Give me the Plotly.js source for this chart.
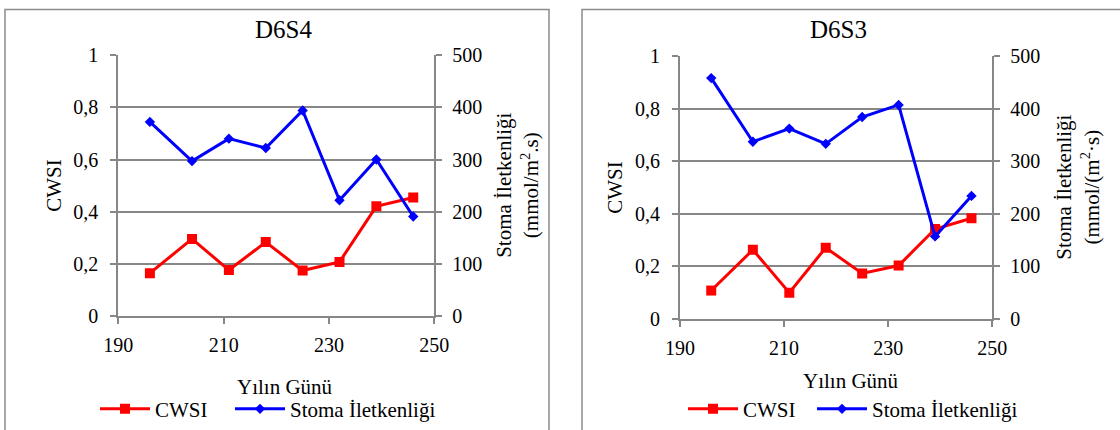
<!DOCTYPE html>
<html>
<head>
<meta charset="utf-8">
<script src="https://cdn.plot.ly/plotly-3.0.1.min.js"></script>
<style>html,body{margin:0;padding:0;background:#fff;}#chart{width:1120px;height:430px;}</style>
</head>
<body>
<div id="chart"></div>
<script>
// ---- data ----
const days = [196, 204, 211, 218, 225, 232, 239, 246];
const d6s4Cwsi = [0.165, 0.296, 0.177, 0.284, 0.175, 0.208, 0.421, 0.455];
const d6s4Stoma = [372, 297, 340, 322, 394, 222, 300, 191];
const d6s3Cwsi = [0.108, 0.263, 0.100, 0.271, 0.173, 0.203, 0.342, 0.383];
const d6s3Stoma = [458, 337, 362, 333, 384, 407, 157, 234];
const panelTitles = ['D6S4', 'D6S3'];
const seriesNames = ['CWSI', 'Stoma İletkenliği'];
const xTitle = 'Yılın Günü';
const yTitle = 'CWSI';
const y2Titles = ['Stoma İletkenliği<br>(mmol/m<sup>2</sup>.s)', 'Stoma İletkenliği<br>(mmol/(m<sup>2</sup>·s)'];

const W = 1120, H = 430;
const px = v => v / W;
const py = v => (H - v) / H;
const FONT = 'Liberation Serif';
const GRID = '#878787';
const RED = '#ff0000', BLUE = '#0000ff';

function cwsiTrace(y, xa, ya, lg) {
  return {x: days, y: y, xaxis: xa, yaxis: ya, name: seriesNames[0], legend: lg,
    type: 'scatter', mode: 'lines+markers',
    line: {color: RED, width: 3}, marker: {symbol: 'square', size: 10, color: RED}};
}
function stomaTrace(y, xa, ya, lg) {
  return {x: days, y: y, xaxis: xa, yaxis: ya, name: seriesNames[1], legend: lg,
    type: 'scatter', mode: 'lines+markers',
    line: {color: BLUE, width: 3}, marker: {symbol: 'diamond', size: 8, color: BLUE}};
}

const data = [
  cwsiTrace(d6s4Cwsi, 'x', 'y', 'legend'),
  stomaTrace(d6s4Stoma, 'x', 'y2', 'legend2'),
  cwsiTrace(d6s3Cwsi, 'x2', 'y3', 'legend3'),
  stomaTrace(d6s3Stoma, 'x2', 'y4', 'legend4')
];

const tickFont = {family: FONT, size: 20, color: '#000'};
function xAxis(dom, anchor) {
  return {domain: dom, anchor: anchor, range: [190, 250], dtick: 20, tick0: 190,
    showgrid: false, zeroline: false, showline: true, linecolor: GRID, linewidth: 2,
    ticks: 'outside', ticklen: 6, tickwidth: 2, tickcolor: GRID, tickfont: tickFont,
    ticklabelstandoff: 4, fixedrange: true};
}
function yLeft(dom, anchor) {
  return {domain: dom, anchor: anchor, range: [0, 1], dtick: 0.2, tick0: 0,
    showgrid: true, gridcolor: GRID, gridwidth: 2, zeroline: false,
    showline: true, linecolor: GRID, linewidth: 2,
    ticks: 'outside', ticklen: 6, tickwidth: 2, tickcolor: GRID, tickfont: tickFont,
    ticklabelstandoff: 8, fixedrange: true};
}
function yRight(over, anchor) {
  return {overlaying: over, anchor: anchor, side: 'right', range: [0, 500], dtick: 100, tick0: 0,
    showgrid: false, zeroline: false, showline: true, linecolor: GRID, linewidth: 2,
    ticks: 'outside', ticklen: 6, tickwidth: 2, tickcolor: GRID, tickfont: tickFont,
    ticklabelstandoff: 6, fixedrange: true};
}

const ann = (text, x, y, size, angle) => ({text: text, x: px(x), y: py(y), xref: 'paper', yref: 'paper',
  xanchor: 'center', yanchor: 'middle', showarrow: false, textangle: angle || 0,
  font: {family: FONT, size: size, color: '#000'}});

const legendAt = (x, y) => ({orientation: 'h', xanchor: 'left', yanchor: 'middle',
  x: px(x), y: py(y),
  font: {family: FONT, size: 21, color: '#000'}, bgcolor: 'rgba(0,0,0,0)',
  itemwidth: 50, tracegroupgap: 0});

const layout = {
  width: W, height: H, margin: {l: 0, r: 0, t: 0, b: 0},
  paper_bgcolor: '#fff', plot_bgcolor: 'rgba(0,0,0,0)',
  separators: ', ',
  font: {family: FONT, size: 20, color: '#000'},
  xaxis: xAxis([px(118.3), px(434.3)], 'y'),
  yaxis: yLeft([py(320), py(55.7)], 'x'),
  yaxis2: yRight('y', 'x'),
  xaxis2: xAxis([px(680), px(992.3)], 'y3'),
  yaxis3: yLeft([py(322.7), py(56.7)], 'x2'),
  yaxis4: yRight('y3', 'x2'),
  legend: legendAt(95, 414),
  legend2: legendAt(230, 414),
  legend3: legendAt(683, 414),
  legend4: legendAt(812, 414),
  shapes: [
    {type: 'rect', xref: 'paper', yref: 'paper', x0: px(5), x1: px(549), y0: py(9.5), y1: py(440),
      line: {color: '#8c8c8c', width: 1.5}, fillcolor: 'rgba(0,0,0,0)'},
    {type: 'rect', xref: 'paper', yref: 'paper', x0: px(582), x1: px(1130), y0: py(9.5), y1: py(440),
      line: {color: '#8c8c8c', width: 1.5}, fillcolor: 'rgba(0,0,0,0)'}
  ],
  annotations: [
    ann(panelTitles[0], 283, 30, 25),
    ann(panelTitles[1], 838, 30, 25),
    ann(yTitle, 54, 188, 21, -90),
    ann(yTitle, 615, 190, 21, -90),
    ann(y2Titles[0], 518, 188, 21, -90),
    ann(y2Titles[1], 1078, 190, 21, -90),
    ann(xTitle, 285, 392, 21),
    ann(xTitle, 851, 385, 21)
  ],
  showlegend: true
};

Plotly.newPlot('chart', data, layout, {staticPlot: true, displayModeBar: false});
</script>
</body>
</html>
